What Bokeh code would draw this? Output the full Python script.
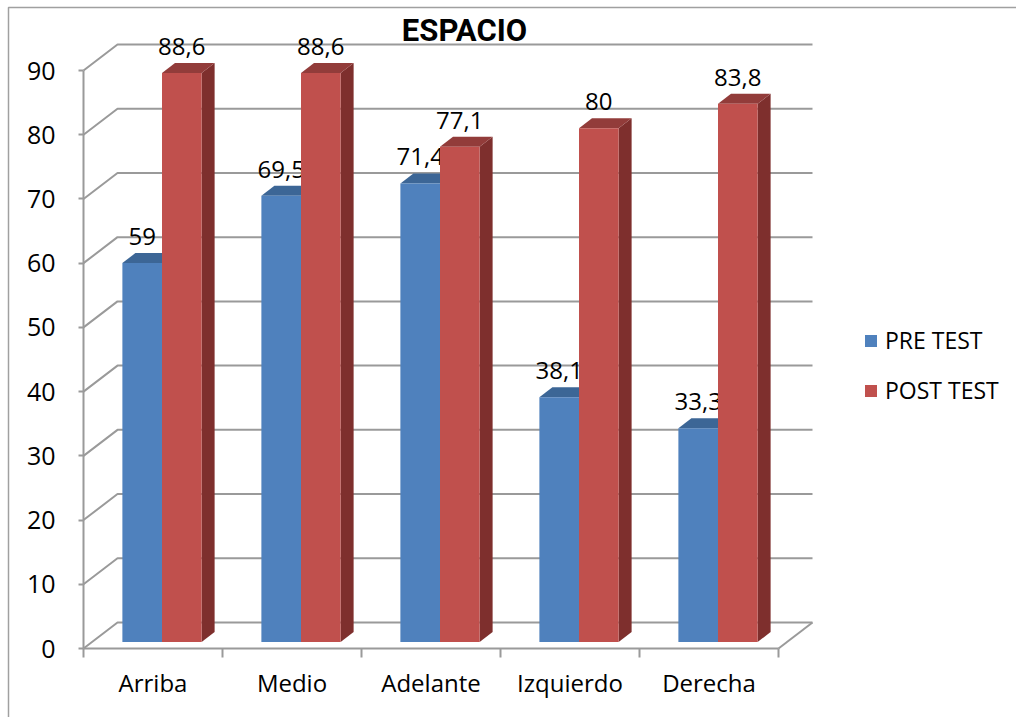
from bokeh.plotting import figure
from bokeh.models import Range1d, LinearAxis, FixedTicker, Legend, LegendItem
from bokeh.core.properties import value
from bokeh.embed import file_html
from bokeh.resources import INLINE

# ---------------- data ----------------
categories = ["Arriba", "Medio", "Adelante", "Izquierdo", "Derecha"]
series_names = ["PRE TEST", "POST TEST"]
pre_test = [59, 69.5, 71.4, 38.1, 33.3]
post_test = [88.6, 88.6, 77.1, 80, 83.8]
pre_labels = ["59", "69,5", "71,4", "38,1", "33,3"]
post_labels = ["88,6", "88,6", "77,1", "80", "83,8"]
y_ticks = [0, 10, 20, 30, 40, 50, 60, 70, 80, 90]
title_text = "ESPACIO"

# ---------------- layout constants (pixels) ----------------
W, H = 1016, 717
X0_PX, Y0_PX = 83, 648          # front origin of the plot box
CAT_PX = 139                    # width of one category on the front plane
UNIT_PX = 578 / 90              # pixels per value unit
WALL_DX, WALL_DY = 34, 26       # depth of the 3D box
BAR_OX, BAR_OY = 9, 6.5         # offset of the bar front face into the box
BAR_BX, BAR_BY = 13, 10         # bar depth
BAR_W = 0.285                   # bar width in category units

FONT = "Open Sans"
FS = "24px"
GRID = "#9a9a9a"
BLUE, BLUE_TOP, BLUE_SIDE = "#4f81bd", "#3c6696", "#2f5177"
RED, RED_TOP, RED_SIDE = "#c0504d", "#923c3a", "#7e2f2d"


def dx(px):
    return px / CAT_PX


def dy(px):
    return px / UNIT_PX


def xd(px):
    return (px - X0_PX) / CAT_PX


def yd(py):
    return (Y0_PX - py) / UNIT_PX


p = figure(width=W, height=H,
           x_range=Range1d(xd(0), xd(W)), y_range=Range1d(yd(H), yd(0)),
           x_axis_type=None, y_axis_type=None,
           toolbar_location=None, output_backend="svg",
           min_border=0, outline_line_color=None)
p.background_fill_color = "white"
p.border_fill_color = "white"

n = len(categories)
DXW, DYW = dx(WALL_DX), dy(WALL_DY)

# chart border (top and left visible)
p.line(x=[xd(8), xd(8), xd(W + 5)], y=[yd(H + 5), yd(7), yd(7)],
       line_color="#a0a0a0", line_width=1.5)

# back wall gridlines + left wall diagonals
gx, gy = [], []
for v in y_ticks:
    gx.append([0, DXW, n + DXW])
    gy.append([v, v + DYW, v + DYW])
p.multi_line(xs=gx, ys=gy, line_color=GRID, line_width=2)
# floor right edge
p.line(x=[n, n + DXW], y=[0, DYW], line_color=GRID, line_width=2)

OX, OY = dx(BAR_OX), dy(BAR_OY)
BX, BY = dx(BAR_BX), dy(BAR_BY)


def draw_series(vals, labels, left_shift, c_front, c_top, c_side):
    lefts = [i + 0.5 + left_shift + OX for i in range(n)]
    rights = [l + BAR_W for l in lefts]
    tops = [v + OY for v in vals]
    side_xs = [[r, r + BX, r + BX, r] for r in rights]
    side_ys = [[OY, OY + BY, t + BY, t] for t in tops]
    top_xs = [[l, r, r + BX, l + BX] for l, r in zip(lefts, rights)]
    top_ys = [[t, t, t + BY, t + BY] for t in tops]
    p.patches(xs=side_xs, ys=side_ys, fill_color=c_side, line_color=None)
    p.patches(xs=top_xs, ys=top_ys, fill_color=c_top, line_color=None)
    front = p.quad(left=lefts, right=rights, bottom=[OY] * n, top=tops,
                   fill_color=c_front, line_color=None)
    p.text(x=[(l + r) / 2 for l, r in zip(lefts, rights)],
           y=[t + dy(26.5) for t in tops], text=labels,
           text_font=value(FONT), text_font_size=FS, text_color="black",
           text_align="center", text_baseline="alphabetic")
    return front


r_pre = draw_series(pre_test, pre_labels, -BAR_W, BLUE, BLUE_TOP, BLUE_SIDE)
r_post = draw_series(post_test, post_labels, 0.0, RED, RED_TOP, RED_SIDE)

# title
p.text(x=[xd(464)], y=[yd(30)], text=[title_text],
       text_font=value("Roboto"), text_font_style="bold", text_font_size="31px",
       text_color="black", text_align="center", text_baseline="alphabetic")

# ---------------- axes ----------------
yaxis = LinearAxis(fixed_location=0, bounds=(0, 90),
                   ticker=FixedTicker(ticks=y_ticks, minor_ticks=[]))
yaxis.axis_line_color = GRID
yaxis.axis_line_width = 2
yaxis.major_tick_line_color = GRID
yaxis.major_tick_line_width = 2
yaxis.major_tick_out = 5
yaxis.major_tick_in = 0
yaxis.minor_tick_line_color = None
yaxis.major_label_standoff = 23
yaxis.major_label_text_font = FONT
yaxis.major_label_text_font_size = "25px"
yaxis.major_label_text_color = "black"
p.add_layout(yaxis, "left")

xaxis_ticks = LinearAxis(fixed_location=0, bounds=(0, n),
                         ticker=FixedTicker(ticks=list(range(n + 1)), minor_ticks=[]))
xaxis_ticks.axis_line_color = GRID
xaxis_ticks.axis_line_width = 2
xaxis_ticks.major_tick_line_color = GRID
xaxis_ticks.major_tick_line_width = 2
xaxis_ticks.major_tick_out = 9
xaxis_ticks.major_tick_in = 0
xaxis_ticks.minor_tick_line_color = None
xaxis_ticks.major_label_text_color = None
xaxis_ticks.major_label_text_font_size = "1px"
p.add_layout(xaxis_ticks, "below")

xaxis = LinearAxis(fixed_location=0,
                   ticker=FixedTicker(ticks=[i + 0.5 for i in range(n)], minor_ticks=[]),
                   major_label_overrides={i + 0.5: c for i, c in enumerate(categories)})
xaxis.axis_line_color = None
xaxis.major_tick_line_color = None
xaxis.minor_tick_line_color = None
xaxis.major_tick_out = 0
xaxis.major_tick_in = 0
xaxis.major_label_standoff = 17
xaxis.major_label_text_font = FONT
xaxis.major_label_text_font_size = FS
xaxis.major_label_text_color = "black"
p.add_layout(xaxis, "below")

# ---------------- legend ----------------
legend = Legend(items=[LegendItem(label=series_names[0], renderers=[r_pre]),
                       LegendItem(label=series_names[1], renderers=[r_post])],
                location=(863, 311), orientation="vertical",
                glyph_width=15, glyph_height=15, label_standoff=7,
                spacing=18, padding=0, margin=0, label_height=30,
                border_line_color=None, background_fill_alpha=0,
                label_text_font=FONT, label_text_font_size="23px",
                label_text_color="black")
p.add_layout(legend)

open("out.html", "w").write(file_html(p, INLINE))
